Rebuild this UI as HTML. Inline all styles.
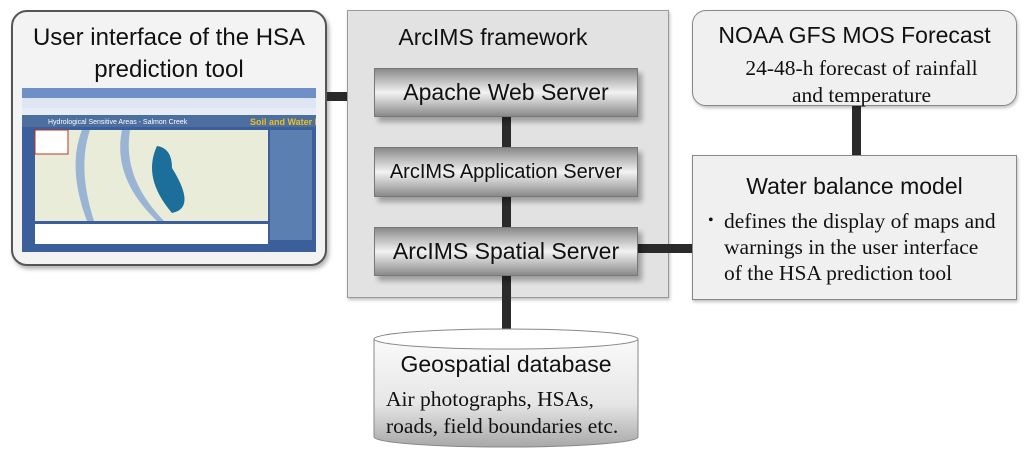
<!DOCTYPE html>
<html><head><style>
body{margin:0;width:1024px;height:460px;background:#fff;position:relative;overflow:hidden;font-family:"Liberation Sans",sans-serif;}
.a{position:absolute;box-sizing:border-box;}
.t{font-size:23px;color:#111;text-align:center;}
.s{font-family:"Liberation Serif",serif;font-size:21.5px;color:#111;line-height:25px;white-space:nowrap;}
.srv{background:linear-gradient(#8a8a8a,#f2f2f2 50%,#8a8a8a);border:1px solid #777;box-shadow:4px 5px 5px rgba(0,0,0,.3);display:flex;align-items:center;justify-content:center;font-size:23px;color:#111;white-space:nowrap;}
.bar{position:absolute;background:#2a2a2a;}
</style></head><body>
<div class="a" style="left:11px;top:10px;width:316px;height:256px;border:2px solid #555;border-radius:16px;background:#f3f3f3;box-shadow:2px 3px 4px rgba(0,0,0,.3)"></div>
<div class="a t" style="left:11px;top:22px;width:316px;line-height:32px;font-size:24px">User interface of the HSA<br>prediction tool</div>
<svg class="a" style="left:22px;top:88px" width="294" height="164">
<rect width="294" height="164" fill="#3a5f9a"/>
<rect x="0" y="0" width="294" height="10" fill="#6f8fc8"/>
<rect x="0" y="10" width="294" height="10" fill="#dde6f2"/>
<rect x="0" y="20" width="294" height="7" fill="#e8ecf4"/>
<rect x="0" y="27" width="294" height="12" fill="#4d6f9f"/>
<text x="26" y="36" font-size="7" fill="#fff" font-family="Liberation Sans">Hydrological Sensitive Areas - Salmon Creek</text>
<text x="228" y="37" font-size="9" fill="#e8c020" font-family="Liberation Sans" font-weight="bold">Soil and Water Lab</text>
<rect x="13" y="42" width="233" height="91" fill="#e9ecd8"/>
<path d="M60 42 Q45 80 65 133 L72 133 Q55 80 68 42Z" fill="#9ab4d4"/>
<path d="M100 42 Q90 90 135 133 L142 133 Q100 90 108 42Z" fill="#9ab4d4"/>
<path d="M135 58 Q120 90 150 125 Q175 120 150 80 Q150 60 135 58Z" fill="#1b6f9a"/>
<rect x="13" y="42" width="33" height="24" fill="#fff" stroke="#c03020"/>
<rect x="13" y="136" width="233" height="20" fill="#fff"/>
<rect x="248" y="42" width="42" height="110" fill="#5a7fb0"/>
<rect x="0" y="156" width="294" height="8" fill="#3a5f9a"/>
</svg>
<div class="bar" style="left:327px;top:92px;width:47px;height:9px"></div>
<div class="a" style="left:347px;top:10px;width:322px;height:288px;background:#e2e2e2;border:1px solid #999;box-shadow:1px 2px 3px rgba(0,0,0,.25)"></div>
<div class="a t" style="left:347px;top:22px;width:322px;line-height:30px;padding-right:30px">ArcIMS framework</div>
<div class="bar" style="left:502px;top:117px;width:9px;height:30px"></div>
<div class="bar" style="left:502px;top:197px;width:9px;height:30px"></div>
<div class="bar" style="left:502px;top:276px;width:9px;height:54px"></div>
<div class="bar" style="left:638px;top:244px;width:54px;height:9px"></div>
<div class="bar" style="left:852px;top:106px;width:9px;height:49px"></div>
<div class="a srv" style="left:374px;top:68px;width:264px;height:49px">Apache Web Server</div>
<div class="a srv" style="left:374px;top:147px;width:264px;height:50px;font-size:20px">ArcIMS Application Server</div>
<div class="a srv" style="left:374px;top:227px;width:264px;height:49px">ArcIMS Spatial Server</div>
<div class="a" style="left:692px;top:10px;width:325px;height:96px;border:1px solid #888;border-radius:14px;background:#f0f0f0;box-shadow:1px 2px 3px rgba(0,0,0,.25)"></div>
<div class="a t" style="left:692px;top:20px;width:325px;line-height:30px">NOAA GFS MOS Forecast</div>
<div class="a s" style="left:692px;top:55px;width:325px;text-align:center;padding-left:14px;line-height:27px">24-48-h forecast of rainfall<br>and temperature</div>
<div class="a" style="left:692px;top:155px;width:325px;height:145px;border:1px solid #888;background:#f0f0f0;box-shadow:1px 2px 3px rgba(0,0,0,.25)"></div>
<div class="a t" style="left:692px;top:171px;width:325px;line-height:30px">Water balance model</div>
<div class="a s" style="left:708px;top:208px;width:310px;line-height:26px"><span style="position:absolute;left:0;font-size:16px">•</span><div style="padding-left:16px">defines the display of maps and<br>warnings in the user interface<br>of the HSA prediction tool</div></div>
<svg class="a" style="left:370px;top:325px" width="275" height="130">
<defs><linearGradient id="g" x1="0" x2="0" y1="0" y2="1"><stop offset="0" stop-color="#fafafa"/><stop offset=".6" stop-color="#e6e6e6"/><stop offset="1" stop-color="#a8a8a8"/></linearGradient></defs>
<path d="M4 14 L4 112 A132 10 0 0 0 268 112 L268 14Z" fill="url(#g)" stroke="#888"/>
<ellipse cx="136" cy="14" rx="132" ry="10" fill="#fff" stroke="#888"/>
</svg>
<div class="a t" style="left:374px;top:349px;width:264px;line-height:30px">Geospatial database</div>
<div class="a s" style="left:386px;top:386px;width:260px;line-height:27px">Air photographs, HSAs,<br>roads, field boundaries etc.</div>
</body></html>
